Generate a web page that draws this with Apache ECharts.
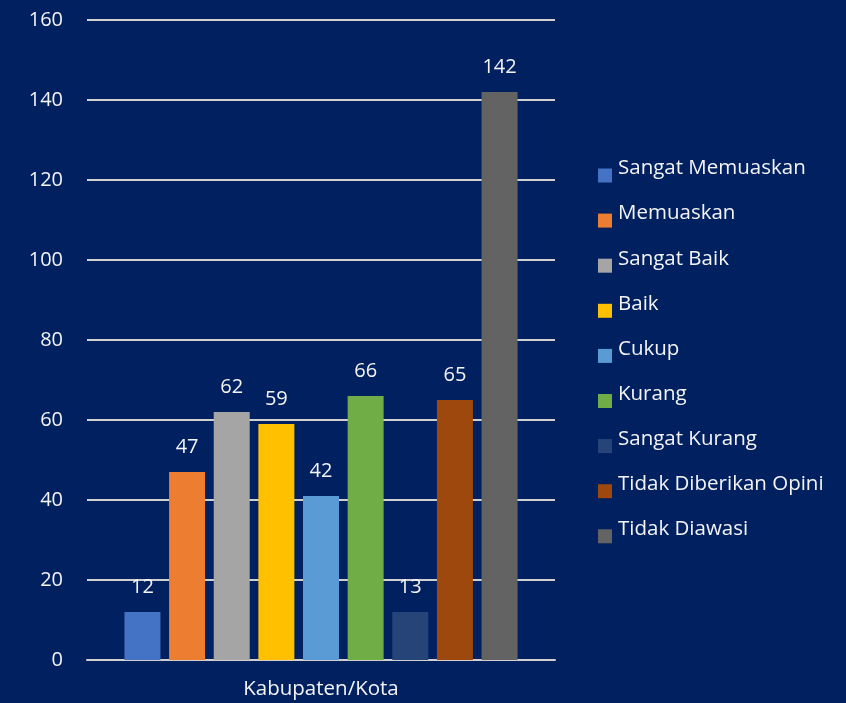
<!DOCTYPE html>
<html><head><meta charset="utf-8">
<script src="https://cdn.jsdelivr.net/npm/echarts@6/dist/echarts.min.js"></script>
<style>html,body{margin:0;padding:0;background:#002060;}#c{width:846px;height:703px;}</style>
</head><body><div id="c"></div>
<script>
const category = ['Kabupaten/Kota'];
const seriesNames = ['Sangat Memuaskan','Memuaskan','Sangat Baik','Baik','Cukup','Kurang','Sangat Kurang','Tidak Diberikan Opini','Tidak Diawasi'];
const barValues = [12, 47, 62, 59, 41, 66, 12, 65, 142];
const labelTexts = ['12','47','62','59','42','66','13','65','142'];
const colors = ['#4472C4','#ED7D31','#A5A5A5','#FFC000','#5B9BD5','#70AD47','#264478','#9E480E','#636363'];
const yTicks = {min: 0, max: 160, interval: 20};

const FONT = '"Open Sans", sans-serif';
const TXT = '#f4f4f4';
const chart = echarts.init(document.getElementById('c'));
chart.setOption({
  backgroundColor: '#002060',
  color: colors,
  animation: false,
  textStyle: {fontFamily: FONT},
  grid: {left: 87, right: 291, top: 20, bottom: 43},
  legend: {
    orient: 'vertical', left: 593, top: 153,
    itemWidth: 14, itemHeight: 14, itemGap: 8.6, icon: 'rect',
    formatter: (name) => '{t|' + name + '}\n{s| }',
    textStyle: {
      color: TXT, fontFamily: FONT, padding: [0,0,0,1],
      rich: {
        t: {color: TXT, fontSize: 20.5, lineHeight: 24, fontFamily: FONT},
        s: {fontSize: 2, lineHeight: 14, height: 14}
      }
    },
    data: seriesNames
  },
  xAxis: {
    type: 'category', data: category,
    axisLine: {lineStyle: {color: '#d0d0d0', width: 2}},
    axisTick: {show: false},
    axisLabel: {color: TXT, fontSize: 20.5, margin: 19, fontFamily: FONT}
  },
  yAxis: {
    type: 'value', min: yTicks.min, max: yTicks.max, interval: yTicks.interval,
    axisLine: {show: false}, axisTick: {show: false},
    axisLabel: {color: TXT, fontSize: 20, margin: 24, fontFamily: FONT},
    splitLine: {lineStyle: {color: '#d0d0d0', width: 2}}
  },
  series: seriesNames.map((n, i) => ({
    name: n, type: 'bar', barWidth: 36, barGap: '24%',
    data: [barValues[i]],
    itemStyle: {color: colors[i]},
    label: {show: true, position: 'top', distance: 15, color: TXT, fontSize: 20, fontFamily: FONT,
      formatter: () => labelTexts[i]}
  }))
});
</script></body></html>
